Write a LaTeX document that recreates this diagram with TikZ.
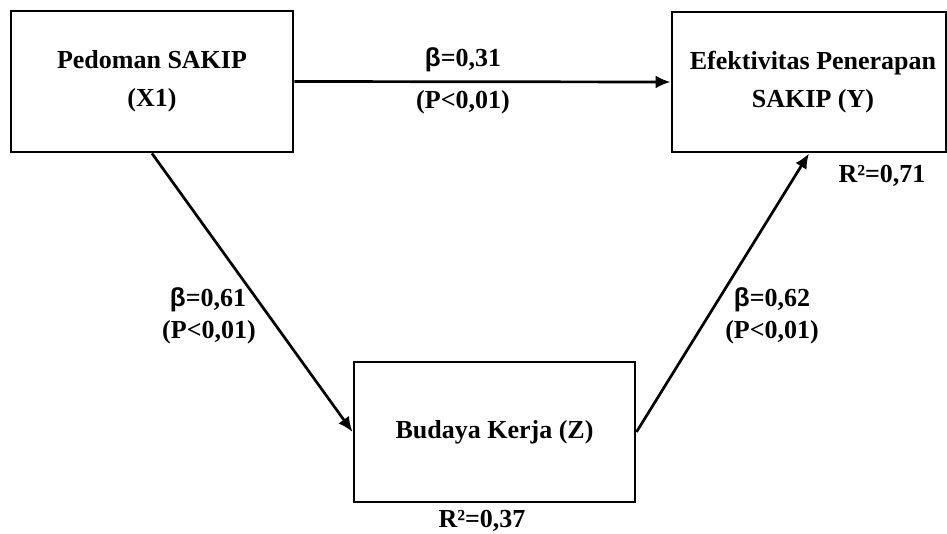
\documentclass[tikz,border=0pt]{standalone}
\usepackage{fontspec}
\setmainfont{Liberation Serif}
\newfontfamily\betafont{Liberation Sans}
\usetikzlibrary{arrows.meta}
\newcommand{\bet}{{\betafont\bfseries β}}
\tikzset{
  box/.style={draw, line width=2.9pt, rectangle, align=center, inner sep=0pt,
    font=\fontsize{26}{38}\selectfont\bfseries},
  conn/.style={line width=2.7pt, -{Latex[length=15pt,width=13pt]}},
  lbl/.style={inner sep=0pt, font=\fontsize{26}{30}\selectfont\bfseries}
}
\begin{document}
\begin{tikzpicture}[x=1pt,y=-1pt]
\useasboundingbox (0,0) rectangle (947,534);
\node[box, minimum width=282pt, minimum height=141pt] (X1) at (152,81.5) {Pedoman SAKIP\\(X1)};
\node[box, minimum width=274pt, minimum height=140pt] (Y) at (809,82) {\hspace*{8pt}Efektivitas Penerapan\\\hspace*{8pt}SAKIP (Y)};
\node[box, minimum width=281pt, minimum height=140pt] (Z) at (494.5,432) {Budaya Kerja (Z)};
\draw[conn] (X1.east) -- (Y.west);
\draw[conn] (X1.south) -- (Z.west);
\draw[conn] (Z.east) -- (Y.south);
\node[lbl] (b1) at (463,60) {\bet=0,31};
\node[lbl] (p1) at (463,102) {(P<0,01)};
\node[lbl] (b2) at (208,300) {\bet=0,61};
\node[lbl] (p2) at (209,332) {(P<0,01)};
\node[lbl] (b3) at (772,300) {\bet=0,62};
\node[lbl] (p3) at (772,332) {(P<0,01)};
\node[lbl] (r1) at (882,176) {R²=0,71};
\node[lbl] (r2) at (482,521) {R²=0,37};
\end{tikzpicture}
\end{document}
